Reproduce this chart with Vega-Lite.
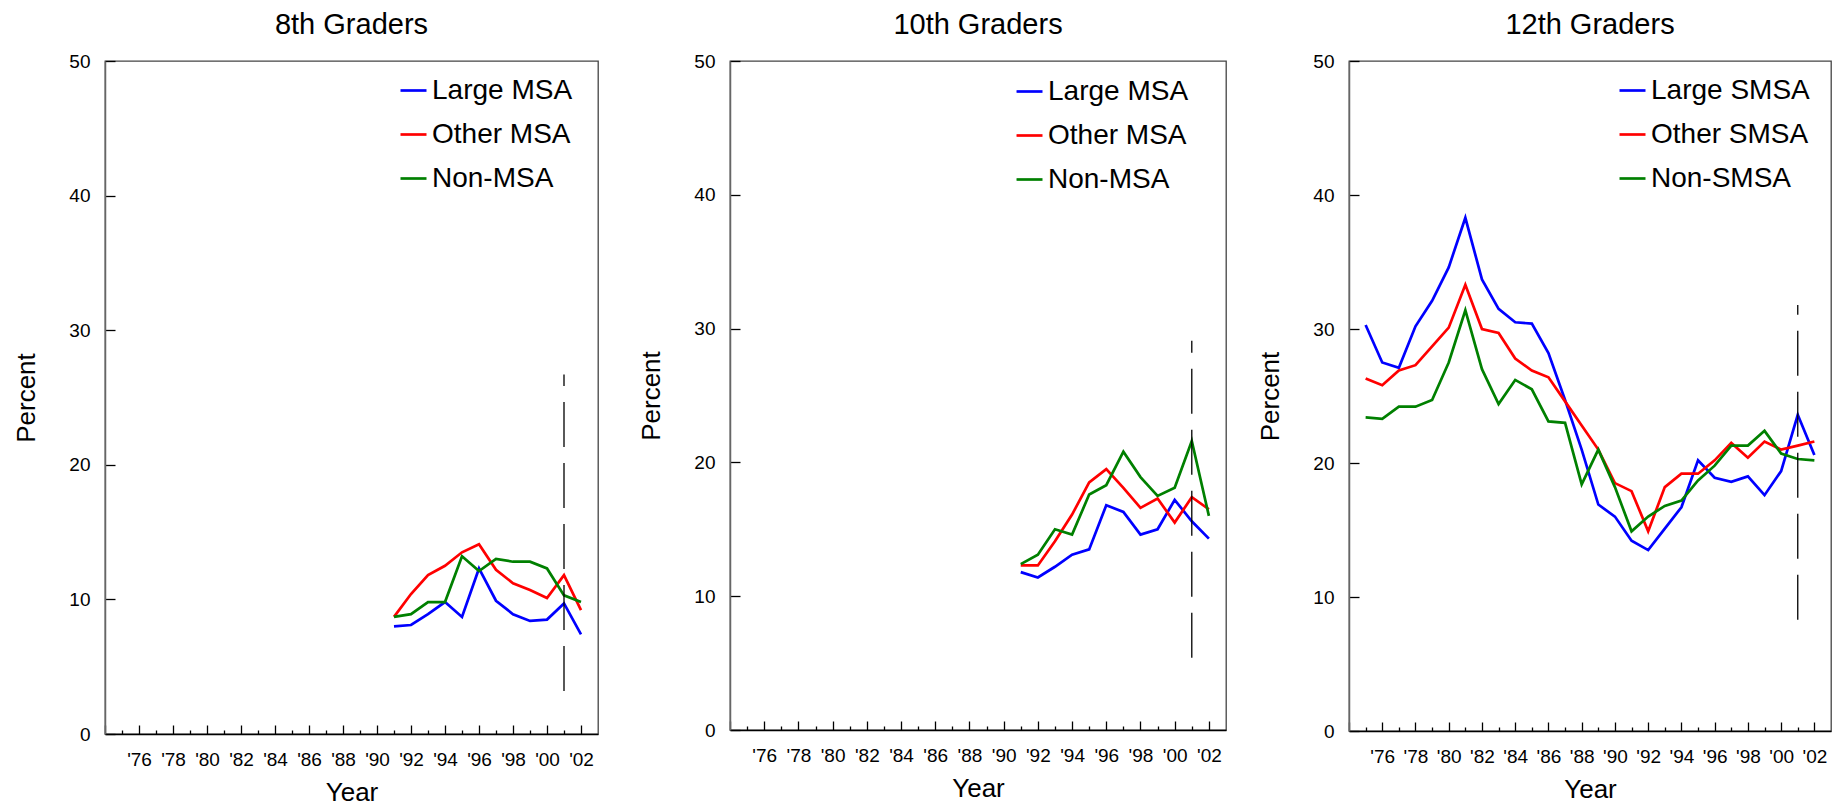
{
  "$schema": "https://vega.github.io/schema/vega-lite/v6.json",
  "padding": {"left": 13, "top": 10, "right": 5, "bottom": 5},
  "datasets": {
    "lines": [
      {"grade": 8, "group": "Large MSA", "year": 1991, "value": 8.0},
      {"grade": 8, "group": "Large MSA", "year": 1992, "value": 8.1},
      {"grade": 8, "group": "Large MSA", "year": 1993, "value": 8.9},
      {"grade": 8, "group": "Large MSA", "year": 1994, "value": 9.8},
      {"grade": 8, "group": "Large MSA", "year": 1995, "value": 8.7},
      {"grade": 8, "group": "Large MSA", "year": 1996, "value": 12.3},
      {"grade": 8, "group": "Large MSA", "year": 1997, "value": 9.9},
      {"grade": 8, "group": "Large MSA", "year": 1998, "value": 8.9},
      {"grade": 8, "group": "Large MSA", "year": 1999, "value": 8.4},
      {"grade": 8, "group": "Large MSA", "year": 2000, "value": 8.5},
      {"grade": 8, "group": "Large MSA", "year": 2001, "value": 9.7},
      {"grade": 8, "group": "Large MSA", "year": 2002, "value": 7.4},
      {"grade": 8, "group": "Other MSA", "year": 1991, "value": 8.7},
      {"grade": 8, "group": "Other MSA", "year": 1992, "value": 10.4},
      {"grade": 8, "group": "Other MSA", "year": 1993, "value": 11.8},
      {"grade": 8, "group": "Other MSA", "year": 1994, "value": 12.5},
      {"grade": 8, "group": "Other MSA", "year": 1995, "value": 13.5},
      {"grade": 8, "group": "Other MSA", "year": 1996, "value": 14.1},
      {"grade": 8, "group": "Other MSA", "year": 1997, "value": 12.2},
      {"grade": 8, "group": "Other MSA", "year": 1998, "value": 11.2},
      {"grade": 8, "group": "Other MSA", "year": 1999, "value": 10.7},
      {"grade": 8, "group": "Other MSA", "year": 2000, "value": 10.1},
      {"grade": 8, "group": "Other MSA", "year": 2001, "value": 11.8},
      {"grade": 8, "group": "Other MSA", "year": 2002, "value": 9.2},
      {"grade": 8, "group": "Non-MSA", "year": 1991, "value": 8.7},
      {"grade": 8, "group": "Non-MSA", "year": 1992, "value": 8.9},
      {"grade": 8, "group": "Non-MSA", "year": 1993, "value": 9.8},
      {"grade": 8, "group": "Non-MSA", "year": 1994, "value": 9.8},
      {"grade": 8, "group": "Non-MSA", "year": 1995, "value": 13.2},
      {"grade": 8, "group": "Non-MSA", "year": 1996, "value": 12.1},
      {"grade": 8, "group": "Non-MSA", "year": 1997, "value": 13.0},
      {"grade": 8, "group": "Non-MSA", "year": 1998, "value": 12.8},
      {"grade": 8, "group": "Non-MSA", "year": 1999, "value": 12.8},
      {"grade": 8, "group": "Non-MSA", "year": 2000, "value": 12.3},
      {"grade": 8, "group": "Non-MSA", "year": 2001, "value": 10.3},
      {"grade": 8, "group": "Non-MSA", "year": 2002, "value": 9.8},
      {"grade": 10, "group": "Large MSA", "year": 1991, "value": 11.8},
      {"grade": 10, "group": "Large MSA", "year": 1992, "value": 11.4},
      {"grade": 10, "group": "Large MSA", "year": 1993, "value": 12.2},
      {"grade": 10, "group": "Large MSA", "year": 1994, "value": 13.1},
      {"grade": 10, "group": "Large MSA", "year": 1995, "value": 13.5},
      {"grade": 10, "group": "Large MSA", "year": 1996, "value": 16.8},
      {"grade": 10, "group": "Large MSA", "year": 1997, "value": 16.3},
      {"grade": 10, "group": "Large MSA", "year": 1998, "value": 14.6},
      {"grade": 10, "group": "Large MSA", "year": 1999, "value": 15.0},
      {"grade": 10, "group": "Large MSA", "year": 2000, "value": 17.2},
      {"grade": 10, "group": "Large MSA", "year": 2001, "value": 15.6},
      {"grade": 10, "group": "Large MSA", "year": 2002, "value": 14.3},
      {"grade": 10, "group": "Other MSA", "year": 1991, "value": 12.3},
      {"grade": 10, "group": "Other MSA", "year": 1992, "value": 12.3},
      {"grade": 10, "group": "Other MSA", "year": 1993, "value": 14.1},
      {"grade": 10, "group": "Other MSA", "year": 1994, "value": 16.1},
      {"grade": 10, "group": "Other MSA", "year": 1995, "value": 18.5},
      {"grade": 10, "group": "Other MSA", "year": 1996, "value": 19.5},
      {"grade": 10, "group": "Other MSA", "year": 1997, "value": 18.1},
      {"grade": 10, "group": "Other MSA", "year": 1998, "value": 16.6},
      {"grade": 10, "group": "Other MSA", "year": 1999, "value": 17.3},
      {"grade": 10, "group": "Other MSA", "year": 2000, "value": 15.5},
      {"grade": 10, "group": "Other MSA", "year": 2001, "value": 17.4},
      {"grade": 10, "group": "Other MSA", "year": 2002, "value": 16.5},
      {"grade": 10, "group": "Non-MSA", "year": 1991, "value": 12.4},
      {"grade": 10, "group": "Non-MSA", "year": 1992, "value": 13.1},
      {"grade": 10, "group": "Non-MSA", "year": 1993, "value": 15.0},
      {"grade": 10, "group": "Non-MSA", "year": 1994, "value": 14.6},
      {"grade": 10, "group": "Non-MSA", "year": 1995, "value": 17.6},
      {"grade": 10, "group": "Non-MSA", "year": 1996, "value": 18.3},
      {"grade": 10, "group": "Non-MSA", "year": 1997, "value": 20.8},
      {"grade": 10, "group": "Non-MSA", "year": 1998, "value": 18.9},
      {"grade": 10, "group": "Non-MSA", "year": 1999, "value": 17.5},
      {"grade": 10, "group": "Non-MSA", "year": 2000, "value": 18.1},
      {"grade": 10, "group": "Non-MSA", "year": 2001, "value": 21.6},
      {"grade": 10, "group": "Non-MSA", "year": 2002, "value": 16.0},
      {"grade": 12, "group": "Large SMSA", "year": 1975, "value": 30.3},
      {"grade": 12, "group": "Large SMSA", "year": 1976, "value": 27.5},
      {"grade": 12, "group": "Large SMSA", "year": 1977, "value": 27.1},
      {"grade": 12, "group": "Large SMSA", "year": 1978, "value": 30.2},
      {"grade": 12, "group": "Large SMSA", "year": 1979, "value": 32.1},
      {"grade": 12, "group": "Large SMSA", "year": 1980, "value": 34.6},
      {"grade": 12, "group": "Large SMSA", "year": 1981, "value": 38.3},
      {"grade": 12, "group": "Large SMSA", "year": 1982, "value": 33.7},
      {"grade": 12, "group": "Large SMSA", "year": 1983, "value": 31.5},
      {"grade": 12, "group": "Large SMSA", "year": 1984, "value": 30.5},
      {"grade": 12, "group": "Large SMSA", "year": 1985, "value": 30.4},
      {"grade": 12, "group": "Large SMSA", "year": 1986, "value": 28.2},
      {"grade": 12, "group": "Large SMSA", "year": 1987, "value": 24.7},
      {"grade": 12, "group": "Large SMSA", "year": 1988, "value": 21.0},
      {"grade": 12, "group": "Large SMSA", "year": 1989, "value": 16.9},
      {"grade": 12, "group": "Large SMSA", "year": 1990, "value": 16.0},
      {"grade": 12, "group": "Large SMSA", "year": 1991, "value": 14.2},
      {"grade": 12, "group": "Large SMSA", "year": 1992, "value": 13.5},
      {"grade": 12, "group": "Large SMSA", "year": 1993, "value": 15.1},
      {"grade": 12, "group": "Large SMSA", "year": 1994, "value": 16.7},
      {"grade": 12, "group": "Large SMSA", "year": 1995, "value": 20.2},
      {"grade": 12, "group": "Large SMSA", "year": 1996, "value": 18.9},
      {"grade": 12, "group": "Large SMSA", "year": 1997, "value": 18.6},
      {"grade": 12, "group": "Large SMSA", "year": 1998, "value": 19.0},
      {"grade": 12, "group": "Large SMSA", "year": 1999, "value": 17.6},
      {"grade": 12, "group": "Large SMSA", "year": 2000, "value": 19.4},
      {"grade": 12, "group": "Large SMSA", "year": 2001, "value": 23.6},
      {"grade": 12, "group": "Large SMSA", "year": 2002, "value": 20.6},
      {"grade": 12, "group": "Other SMSA", "year": 1975, "value": 26.3},
      {"grade": 12, "group": "Other SMSA", "year": 1976, "value": 25.8},
      {"grade": 12, "group": "Other SMSA", "year": 1977, "value": 26.9},
      {"grade": 12, "group": "Other SMSA", "year": 1978, "value": 27.3},
      {"grade": 12, "group": "Other SMSA", "year": 1979, "value": 28.7},
      {"grade": 12, "group": "Other SMSA", "year": 1980, "value": 30.1},
      {"grade": 12, "group": "Other SMSA", "year": 1981, "value": 33.3},
      {"grade": 12, "group": "Other SMSA", "year": 1982, "value": 30.0},
      {"grade": 12, "group": "Other SMSA", "year": 1983, "value": 29.7},
      {"grade": 12, "group": "Other SMSA", "year": 1984, "value": 27.8},
      {"grade": 12, "group": "Other SMSA", "year": 1985, "value": 26.9},
      {"grade": 12, "group": "Other SMSA", "year": 1986, "value": 26.4},
      {"grade": 12, "group": "Other SMSA", "year": 1987, "value": 24.6},
      {"grade": 12, "group": "Other SMSA", "year": 1988, "value": 22.8},
      {"grade": 12, "group": "Other SMSA", "year": 1989, "value": 21.0},
      {"grade": 12, "group": "Other SMSA", "year": 1990, "value": 18.5},
      {"grade": 12, "group": "Other SMSA", "year": 1991, "value": 17.9},
      {"grade": 12, "group": "Other SMSA", "year": 1992, "value": 14.9},
      {"grade": 12, "group": "Other SMSA", "year": 1993, "value": 18.2},
      {"grade": 12, "group": "Other SMSA", "year": 1994, "value": 19.2},
      {"grade": 12, "group": "Other SMSA", "year": 1995, "value": 19.2},
      {"grade": 12, "group": "Other SMSA", "year": 1996, "value": 20.2},
      {"grade": 12, "group": "Other SMSA", "year": 1997, "value": 21.5},
      {"grade": 12, "group": "Other SMSA", "year": 1998, "value": 20.4},
      {"grade": 12, "group": "Other SMSA", "year": 1999, "value": 21.6},
      {"grade": 12, "group": "Other SMSA", "year": 2000, "value": 21.0},
      {"grade": 12, "group": "Other SMSA", "year": 2001, "value": 21.3},
      {"grade": 12, "group": "Other SMSA", "year": 2002, "value": 21.6},
      {"grade": 12, "group": "Non-SMSA", "year": 1975, "value": 23.4},
      {"grade": 12, "group": "Non-SMSA", "year": 1976, "value": 23.3},
      {"grade": 12, "group": "Non-SMSA", "year": 1977, "value": 24.2},
      {"grade": 12, "group": "Non-SMSA", "year": 1978, "value": 24.2},
      {"grade": 12, "group": "Non-SMSA", "year": 1979, "value": 24.7},
      {"grade": 12, "group": "Non-SMSA", "year": 1980, "value": 27.5},
      {"grade": 12, "group": "Non-SMSA", "year": 1981, "value": 31.4},
      {"grade": 12, "group": "Non-SMSA", "year": 1982, "value": 27.0},
      {"grade": 12, "group": "Non-SMSA", "year": 1983, "value": 24.4},
      {"grade": 12, "group": "Non-SMSA", "year": 1984, "value": 26.2},
      {"grade": 12, "group": "Non-SMSA", "year": 1985, "value": 25.5},
      {"grade": 12, "group": "Non-SMSA", "year": 1986, "value": 23.1},
      {"grade": 12, "group": "Non-SMSA", "year": 1987, "value": 23.0},
      {"grade": 12, "group": "Non-SMSA", "year": 1988, "value": 18.4},
      {"grade": 12, "group": "Non-SMSA", "year": 1989, "value": 21.0},
      {"grade": 12, "group": "Non-SMSA", "year": 1990, "value": 18.2},
      {"grade": 12, "group": "Non-SMSA", "year": 1991, "value": 14.9},
      {"grade": 12, "group": "Non-SMSA", "year": 1992, "value": 16.0},
      {"grade": 12, "group": "Non-SMSA", "year": 1993, "value": 16.8},
      {"grade": 12, "group": "Non-SMSA", "year": 1994, "value": 17.2},
      {"grade": 12, "group": "Non-SMSA", "year": 1995, "value": 18.7},
      {"grade": 12, "group": "Non-SMSA", "year": 1996, "value": 19.8},
      {"grade": 12, "group": "Non-SMSA", "year": 1997, "value": 21.3},
      {"grade": 12, "group": "Non-SMSA", "year": 1998, "value": 21.3},
      {"grade": 12, "group": "Non-SMSA", "year": 1999, "value": 22.4},
      {"grade": 12, "group": "Non-SMSA", "year": 2000, "value": 20.7},
      {"grade": 12, "group": "Non-SMSA", "year": 2001, "value": 20.3},
      {"grade": 12, "group": "Non-SMSA", "year": 2002, "value": 20.2}
    ],
    "rules": [
      {"grade": 8, "year": 2001, "value": 3.2, "value2": 26.7},
      {"grade": 10, "year": 2001, "value": 5.4, "value2": 29.1},
      {"grade": 12, "year": 2001, "value": 8.3, "value2": 31.8}
    ]
  },
  "hconcat": [
    {
      "hconcat": [
        {
          "width": 493, "height": 673,
          "title": {"text": "8th Graders", "offset": 12},
          "encoding": {"y": {"field": "value", "type": "quantitative", "scale": {"domain": [0, 50], "nice": false}, "axis": {"values": [0, 10, 20, 30, 40, 50], "tickSize": -10, "labelPadding": 25, "labelFlush": false, "title": "Percent", "titlePadding": 29, "domainColor": "#666", "domainWidth": 1.5, "tickWidth": 1.3}}},
          "layer": [
            {"data": {"name": "lines"}, "transform": [{"filter": "datum.grade == 8"}], "mark": {"type": "line", "strokeWidth": 2.7},
             "encoding": {
               "x": {"field": "year", "type": "quantitative", "scale": {"domain": [1974, 2003], "nice": false, "zero": false}, "axis": {"orient": "bottom", "values": [1974, 1976, 1978, 1980, 1982, 1984, 1986, 1988, 1990, 1992, 1994, 1996, 1998, 2000, 2002], "tickSize": -9, "tickWidth": 1.3, "labelPadding": 25, "labelFlush": false, "labelOverlap": false, "labelExpr": "datum.value == 1974 ? '' : \"'\" + substring(toString(datum.value), 2, 4)", "title": "Year", "titlePadding": 10, "domainColor": "black", "domainWidth": 1.5}},
               "color": {"field": "group", "type": "nominal", "scale": {"domain": ["Large MSA", "Other MSA", "Non-MSA"], "range": ["#0000ff", "#ff0000", "#008000"]}, "legend": {"title": null, "legendX": 294, "legendY": 15}}
             }},
            {"data": {"name": "rules"}, "transform": [{"filter": "datum.grade == 8"}], "mark": {"type": "rule", "strokeDash": [45, 16], "color": "black", "strokeWidth": 1.3},
             "encoding": {
               "x": {"field": "year", "type": "quantitative", "scale": {"domain": [1974, 2003], "nice": false, "zero": false}, "axis": {"orient": "bottom", "values": [1975, 1977, 1979, 1981, 1983, 1985, 1987, 1989, 1991, 1993, 1995, 1997, 1999, 2001], "tickSize": -4, "tickWidth": 1.3, "labels": false, "domain": false, "title": null}},
               "y2": {"field": "value2"}
             }}
          ],
          "resolve": {"axis": {"x": "independent"}}
        },
        {
          "width": 496, "height": 669,
          "title": {"text": "10th Graders", "offset": 12},
          "encoding": {"y": {"field": "value", "type": "quantitative", "scale": {"domain": [0, 50], "nice": false}, "axis": {"values": [0, 10, 20, 30, 40, 50], "tickSize": -10, "labelPadding": 25, "labelFlush": false, "title": "Percent", "titlePadding": 29, "domainColor": "#666", "domainWidth": 1.5, "tickWidth": 1.3}}},
          "layer": [
            {"data": {"name": "lines"}, "transform": [{"filter": "datum.grade == 10"}], "mark": {"type": "line", "strokeWidth": 2.7},
             "encoding": {
               "x": {"field": "year", "type": "quantitative", "scale": {"domain": [1974, 2003], "nice": false, "zero": false}, "axis": {"orient": "bottom", "values": [1974, 1976, 1978, 1980, 1982, 1984, 1986, 1988, 1990, 1992, 1994, 1996, 1998, 2000, 2002], "tickSize": -9, "tickWidth": 1.3, "labelPadding": 25, "labelFlush": false, "labelOverlap": false, "labelExpr": "datum.value == 1974 ? '' : \"'\" + substring(toString(datum.value), 2, 4)", "title": "Year", "titlePadding": 10, "domainColor": "black", "domainWidth": 1.5}},
               "color": {"field": "group", "type": "nominal", "scale": {"domain": ["Large MSA", "Other MSA", "Non-MSA"], "range": ["#0000ff", "#ff0000", "#008000"]}, "legend": {"title": null, "legendX": 285, "legendY": 16}}
             }},
            {"data": {"name": "rules"}, "transform": [{"filter": "datum.grade == 10"}], "mark": {"type": "rule", "strokeDash": [45, 16], "color": "black", "strokeWidth": 1.3},
             "encoding": {
               "x": {"field": "year", "type": "quantitative", "scale": {"domain": [1974, 2003], "nice": false, "zero": false}, "axis": {"orient": "bottom", "values": [1975, 1977, 1979, 1981, 1983, 1985, 1987, 1989, 1991, 1993, 1995, 1997, 1999, 2001], "tickSize": -4, "tickWidth": 1.3, "labels": false, "domain": false, "title": null}},
               "y2": {"field": "value2"}
             }}
          ],
          "resolve": {"axis": {"x": "independent"}}
        }
      ],
      "spacing": 39,
      "resolve": {"scale": {"color": "independent"}, "legend": {"color": "independent"}}
    },
    {
      "width": 482, "height": 670,
      "title": {"text": "12th Graders", "offset": 12},
      "encoding": {"y": {"field": "value", "type": "quantitative", "scale": {"domain": [0, 50], "nice": false}, "axis": {"values": [0, 10, 20, 30, 40, 50], "tickSize": -10, "labelPadding": 25, "labelFlush": false, "title": "Percent", "titlePadding": 29, "domainColor": "#666", "domainWidth": 1.5, "tickWidth": 1.3}}},
      "layer": [
        {"data": {"name": "lines"}, "transform": [{"filter": "datum.grade == 12"}], "mark": {"type": "line", "strokeWidth": 2.7},
         "encoding": {
           "x": {"field": "year", "type": "quantitative", "scale": {"domain": [1974, 2003], "nice": false, "zero": false}, "axis": {"orient": "bottom", "values": [1974, 1976, 1978, 1980, 1982, 1984, 1986, 1988, 1990, 1992, 1994, 1996, 1998, 2000, 2002], "tickSize": -9, "tickWidth": 1.3, "labelPadding": 25, "labelFlush": false, "labelOverlap": false, "labelExpr": "datum.value == 1974 ? '' : \"'\" + substring(toString(datum.value), 2, 4)", "title": "Year", "titlePadding": 10, "domainColor": "black", "domainWidth": 1.5}},
           "color": {"field": "group", "type": "nominal", "scale": {"domain": ["Large SMSA", "Other SMSA", "Non-SMSA"], "range": ["#0000ff", "#ff0000", "#008000"]}, "legend": {"title": null, "legendX": 269, "legendY": 15}}
         }},
        {"data": {"name": "rules"}, "transform": [{"filter": "datum.grade == 12"}], "mark": {"type": "rule", "strokeDash": [45, 16], "color": "black", "strokeWidth": 1.3},
         "encoding": {
           "x": {"field": "year", "type": "quantitative", "scale": {"domain": [1974, 2003], "nice": false, "zero": false}, "axis": {"orient": "bottom", "values": [1975, 1977, 1979, 1981, 1983, 1985, 1987, 1989, 1991, 1993, 1995, 1997, 1999, 2001], "tickSize": -4, "tickWidth": 1.3, "labels": false, "domain": false, "title": null}},
           "y2": {"field": "value2"}
         }}
      ],
      "resolve": {"axis": {"x": "independent"}}
    }
  ],
  "spacing": 30,
  "resolve": {"scale": {"color": "independent"}, "legend": {"color": "independent"}},
  "config": {
    "font": "Liberation Sans",
    "view": {"stroke": "#444", "strokeWidth": 1.3},
    "axis": {"grid": false, "labelFont": "Liberation Sans", "titleFont": "Liberation Sans", "titleFontWeight": "normal", "labelColor": "black", "titleColor": "black", "tickColor": "black", "labelFontSize": 19, "titleFontSize": 26},
    "title": {"fontSize": 29, "fontWeight": "normal", "font": "Liberation Sans", "color": "black"},
    "legend": {"orient": "none", "symbolType": "stroke", "symbolSize": 676, "symbolStrokeWidth": 2.7, "labelFontSize": 28, "labelOffset": 4, "rowPadding": 15, "padding": 0, "labelColor": "black", "labelFont": "Liberation Sans"}
  }
}
